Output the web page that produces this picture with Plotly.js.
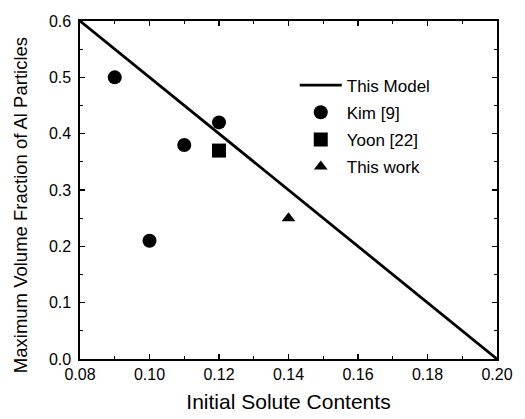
<!DOCTYPE html>
<html><head><meta charset="utf-8">
<script src="https://cdn.plot.ly/plotly-3.0.1.min.js"></script>
<style>html,body{margin:0;padding:0;background:#fff}#c{width:525px;height:419px}</style>
</head><body><div id="c"></div>
<script>
const modelX = [0.08, 0.20];
const modelY = [0.6, 0.0];
const kimX = [0.09, 0.10, 0.11, 0.12];
const kimY = [0.50, 0.21, 0.38, 0.42];
const yoonX = [0.12];
const yoonY = [0.37];
const workX = [0.14];
const workY = [0.25];
const xTicks = [0.08, 0.10, 0.12, 0.14, 0.16, 0.18, 0.20];
const xTickText = ['0.08','0.10','0.12','0.14','0.16','0.18','0.20'];
const yTicks = [0.0, 0.1, 0.2, 0.3, 0.4, 0.5, 0.6];
const yTickText = ['0.0','0.1','0.2','0.3','0.4','0.5','0.6'];

const FONT = 'Arial, "Liberation Sans", Helvetica, sans-serif';
const traces = [
  {x: modelX, y: modelY, mode:'lines', name:'This Model', legendgroup:'a',
   line:{color:'#000', width:2.8}},
  {x: kimX, y: kimY, mode:'markers', name:'Kim [9]', legendgroup:'b',
   marker:{symbol:'circle', size:14, color:'#000'}},
  {x: yoonX, y: yoonY, mode:'markers', name:'Yoon [22]', legendgroup:'c',
   marker:{symbol:'square', size:14, color:'#000'}},
  {x: workX, y: workY, mode:'markers', name:'This work', legendgroup:'d',
   marker:{symbol:'triangle-up', size:12, color:'#000'}}
];
const axisCommon = {
  showgrid:false, zeroline:false, showline:true, linecolor:'#000', linewidth:1.6,
  mirror:'ticks', ticks:'inside', ticklen:5, tickwidth:1.2, tickcolor:'#000',
  tickfont:{family:FONT, size:16, color:'#000'}
};
const layout = {
  width:525, height:419,
  margin:{l:80, r:28, t:21, b:60},
  paper_bgcolor:'#fff', plot_bgcolor:'#fff',
  font:{family:FONT, color:'#000'},
  showlegend:true,
  legend:{x:0.515, y:0.862, xanchor:'left', yanchor:'top', bgcolor:'rgba(0,0,0,0)',
    font:{family:FONT, size:17, color:'#000'}, tracegroupgap:2, itemwidth:42},
  xaxis: Object.assign({}, axisCommon, {
    range:[0.08, 0.20], tickvals:xTicks, ticktext:xTickText,
    minor:{dtick:0.01, ticklen:3, ticks:'inside', tickcolor:'#000'},
    title:{text:'Initial Solute Contents', font:{family:FONT, size:21, color:'#000'}, standoff:12}
  }),
  yaxis: Object.assign({}, axisCommon, {
    range:[0, 0.6], tickvals:yTicks, ticktext:yTickText, ticklabelstandoff:4,
    minor:{dtick:0.05, ticklen:3, ticks:'inside', tickcolor:'#000'}
  }),
  annotations:[{
    text:'Maximum Volume Fraction of Al Particles', textangle:-90,
    xref:'paper', yref:'paper', x:-0.144, y:0.455, xanchor:'center', yanchor:'middle',
    showarrow:false, font:{family:FONT, size:18.5, color:'#000'}
  }]
};
Plotly.newPlot('c', traces, layout, {displayModeBar:false, staticPlot:true});
</script></body></html>
